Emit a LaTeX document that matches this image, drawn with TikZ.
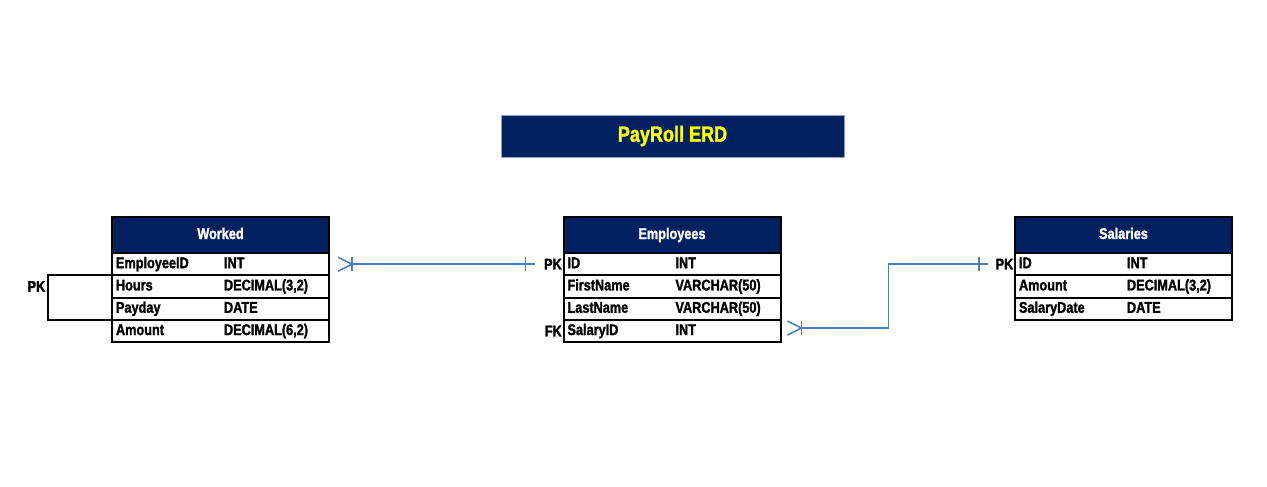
\documentclass[tikz,border=0pt]{standalone}
\usepackage{fontspec}
\setmainfont{Liberation Sans}[FakeStretch=0.82,BoldFeatures={FakeBold=1.5}]
\usetikzlibrary{positioning,calc}

\definecolor{erdnavy}{HTML}{002060}
\definecolor{erdblue}{HTML}{4A7EBB}
\definecolor{erdyellow}{HTML}{FFFF00}
\definecolor{erdedge}{HTML}{8FA4C4}

% one field: name column, then type column
\newcommand{\fld}[2]{\makebox[108pt][l]{#1}#2}

\begin{document}
\begin{tikzpicture}[x=1pt,y=-1pt,node distance=0pt,
    every node/.style={font=\bfseries\fontsize{15.5}{17}\selectfont},
    head/.style={draw=black,line width=2pt,fill=erdnavy,text=white,outer sep=0pt,
      minimum width=217pt,minimum height=36pt,inner sep=0pt,
      text height=11pt,text depth=3pt},
    row/.style={draw=black,line width=2pt,text width=209pt,align=left,outer sep=0pt,
      inner xsep=4pt,inner ysep=0pt,minimum height=22.3pt,
      text height=11pt,text depth=3pt},
    key/.style={inner sep=1.5pt},
    link/.style={draw=erdblue,line width=1.6pt},
    crow/.pic={\draw[link] (0,-7) -- (14,0) -- (0,7);
      \draw[link] (14,-7) -- (14,7);},
    one/.pic={\draw[link] (0,-7) -- (0,7);}]
  \useasboundingbox (0,0) rectangle (1267,487);

  % Title
  \node[fill=erdnavy,draw=erdedge,line width=1pt,text=erdyellow,
    font=\bfseries\fontsize{22}{24}\selectfont,
    minimum width=343pt,minimum height=42pt] (title) at (672.5,136) {PayRoll ERD};

  % Worked table
  \node[head] (wk) at (220.5,235) {Worked};
  \node[row,below=of wk] (wk1) {\fld{EmployeeID}{INT}};
  \node[row,below=of wk1] (wk2) {\fld{Hours}{DECIMAL(3,2)}};
  \node[row,below=of wk2] (wk3) {\fld{Payday}{DATE}};
  \node[row,below=of wk3] (wk4) {\fld{Amount}{DECIMAL(6,2)}};
  \draw[line width=2pt] (wk2.north west) -- ++(-64,0) coordinate (pkw)
    |- (wk3.south west);
  \coordinate (pkw2) at (pkw |- wk2.west);
  \node[key,left=1pt of pkw2] (wkpk) {PK};

  % Employees table
  \node[head] (ep) at (672,235) {Employees};
  \node[row,below=of ep] (ep1) {\fld{ID}{INT}};
  \node[row,below=of ep1] (ep2) {\fld{FirstName}{VARCHAR(50)}};
  \node[row,below=of ep2] (ep3) {\fld{LastName}{VARCHAR(50)}};
  \node[row,below=of ep3] (ep4) {\fld{SalaryID}{INT}};
  \node[key,left=0pt of ep1] (eppk) {PK};
  \node[key,left=0pt of ep4] (epfk) {FK};

  % Salaries table
  \node[head] (sa) at (1123.5,235) {Salaries};
  \node[row,below=of sa] (sa1) {\fld{ID}{INT}};
  \node[row,below=of sa1] (sa2) {\fld{Amount}{DECIMAL(3,2)}};
  \node[row,below=of sa2] (sa3) {\fld{SalaryDate}{DATE}};
  \node[key,left=0pt of sa1] (sapk) {PK};

  % Worked -- Employees
  \coordinate (wkfoot) at ($(wk1.east)+(9,0)$);
  \coordinate (epone) at ($(ep1.west)+(-29,0)$);
  \pic at (wkfoot) {crow};
  \draw[link] ($(wkfoot)+(14,0)$) -- (epone);
  \pic at ($(epone)+(-9,0)$) {one};

  % Employees -- Salaries
  \coordinate (epfoot) at ($(ep4.east)+(7,-3)$);
  \coordinate (saone) at ($(sa1.west)+(-27,0)$);
  \pic at (epfoot) {crow};
  \draw[link] ($(epfoot)+(14,0)$) -- ++(87,0) |- (saone);
  \pic at ($(saone)+(-9,0)$) {one};
\end{tikzpicture}
\end{document}
